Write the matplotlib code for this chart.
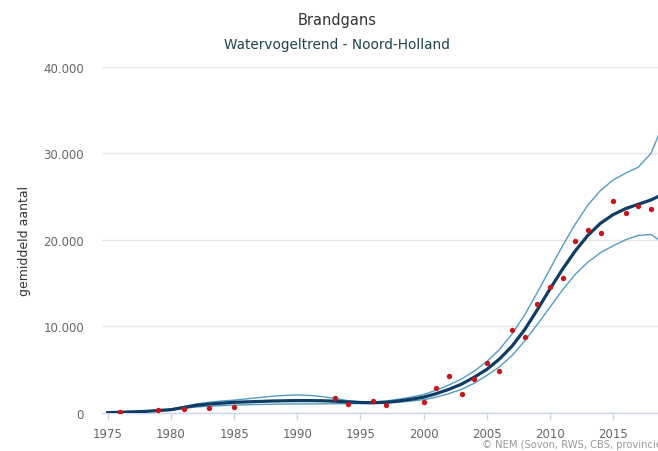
import matplotlib
matplotlib.use("Agg")
import matplotlib.pyplot as plt
from matplotlib.ticker import FuncFormatter, MultipleLocator

# counted averages (red dots)
count_years = [1976, 1979, 1981, 1983, 1985, 1993, 1994, 1996, 1997, 2000,
               2001, 2002, 2003, 2004, 2005, 2006, 2007, 2008, 2009, 2010,
               2011, 2012, 2013, 2014, 2015, 2016, 2017, 2018]
count_values = [50, 300, 450, 550, 650, 1700, 1000, 1300, 850, 1250,
                2800, 4300, 2200, 3850, 5800, 4800, 9550, 8750, 12550, 14550,
                15600, 19800, 21100, 20800, 24500, 23100, 23900, 23500]

# smoothed trend with upper and lower bound
trend_years = list(range(1975, 2020))
trend = [0, 50, 100, 150, 250, 350, 600, 850, 1000, 1100,
         1200, 1250, 1300, 1350, 1380, 1400, 1400, 1380, 1330, 1250,
         1180, 1150, 1200, 1350, 1550, 1800, 2200, 2700, 3300, 4100,
         5000, 6200, 7700, 9600, 11900, 14300, 16600, 18700, 20500, 21900,
         22900, 23600, 24100, 24600, 25300]
upper = [0, 50, 100, 150, 250, 400, 700, 1000, 1200, 1350,
         1450, 1600, 1750, 1900, 2000, 2050, 2000, 1850, 1650, 1400,
         1250, 1250, 1350, 1550, 1800, 2100, 2600, 3200, 3900, 4800,
         5900, 7300, 9100, 11300, 13900, 16600, 19300, 21800, 24000, 25700,
         26900, 27700, 28400, 30000, 33500]
lower = [0, 50, 100, 150, 200, 300, 500, 650, 750, 820,
         880, 920, 950, 980, 1000, 1010, 1020, 1030, 1040, 1050,
         1060, 1070, 1100, 1200, 1350, 1500, 1800, 2200, 2700, 3400,
         4300, 5300, 6600, 8300, 10200, 12200, 14200, 16000, 17400, 18500,
         19300, 20000, 20500, 20600, 19600]

title = "Brandgans"
subtitle = "Watervogeltrend - Noord-Holland"
credit = "\u00a9 NEM (Sovon, RWS, CBS, provincies)"

fig = plt.figure(figsize=(6.58, 4.52), dpi=100)
ax = fig.add_axes([102 / 658, 38.3 / 452, 556 / 658, 346 / 452])

band_color = "#539cc1"
ax.plot(trend_years, upper, color=band_color, lw=1.0, zorder=2)
ax.plot(trend_years, lower, color=band_color, lw=1.0, zorder=2)
ax.plot(trend_years, trend, color="#0f3c63", lw=2.3, zorder=3)
ax.scatter(count_years, count_values, s=15, color="#c4161c", zorder=4, linewidths=0)

ax.set_xlim(1974.55, 2018.55)
ax.set_ylim(0, 40000)
ax.xaxis.set_major_locator(MultipleLocator(5))
ax.yaxis.set_major_locator(MultipleLocator(10000))
ax.yaxis.set_major_formatter(FuncFormatter(lambda v, p: f"{int(v):,}".replace(",", ".")))

ax.grid(axis="y", color="#e6e6e6", lw=1.0, zorder=0)
for side in ["top", "right", "left"]:
    ax.spines[side].set_visible(False)
ax.spines["bottom"].set_color("#ccd6eb")
ax.spines["bottom"].set_linewidth(1.0)
ax.spines["bottom"].set_zorder(1)

ax.tick_params(axis="x", colors="#ccd6eb", length=5, width=1, pad=5,
               labelcolor="#666666", labelsize=8.5)
ax.tick_params(axis="y", length=0, pad=13, labelcolor="#666666", labelsize=8.5)
ax.set_ylabel("gemiddeld aantal", fontsize=9, color="#333333")
ax.yaxis.set_label_coords(-(102 - 31) / 556, 0.5)

fig.text(337 / 658, 1 - 20 / 452, title, ha="center", va="center",
         fontsize=10.5, color="#333333")
fig.text(337 / 658, 1 - 45 / 452, subtitle, ha="center", va="center",
         fontsize=9.8, color="#1d4350")
fig.text(482 / 658, 1 - 445 / 452, credit, ha="left", va="center",
         fontsize=7.2, color="#999999")

fig.savefig("out.png", dpi=100)
